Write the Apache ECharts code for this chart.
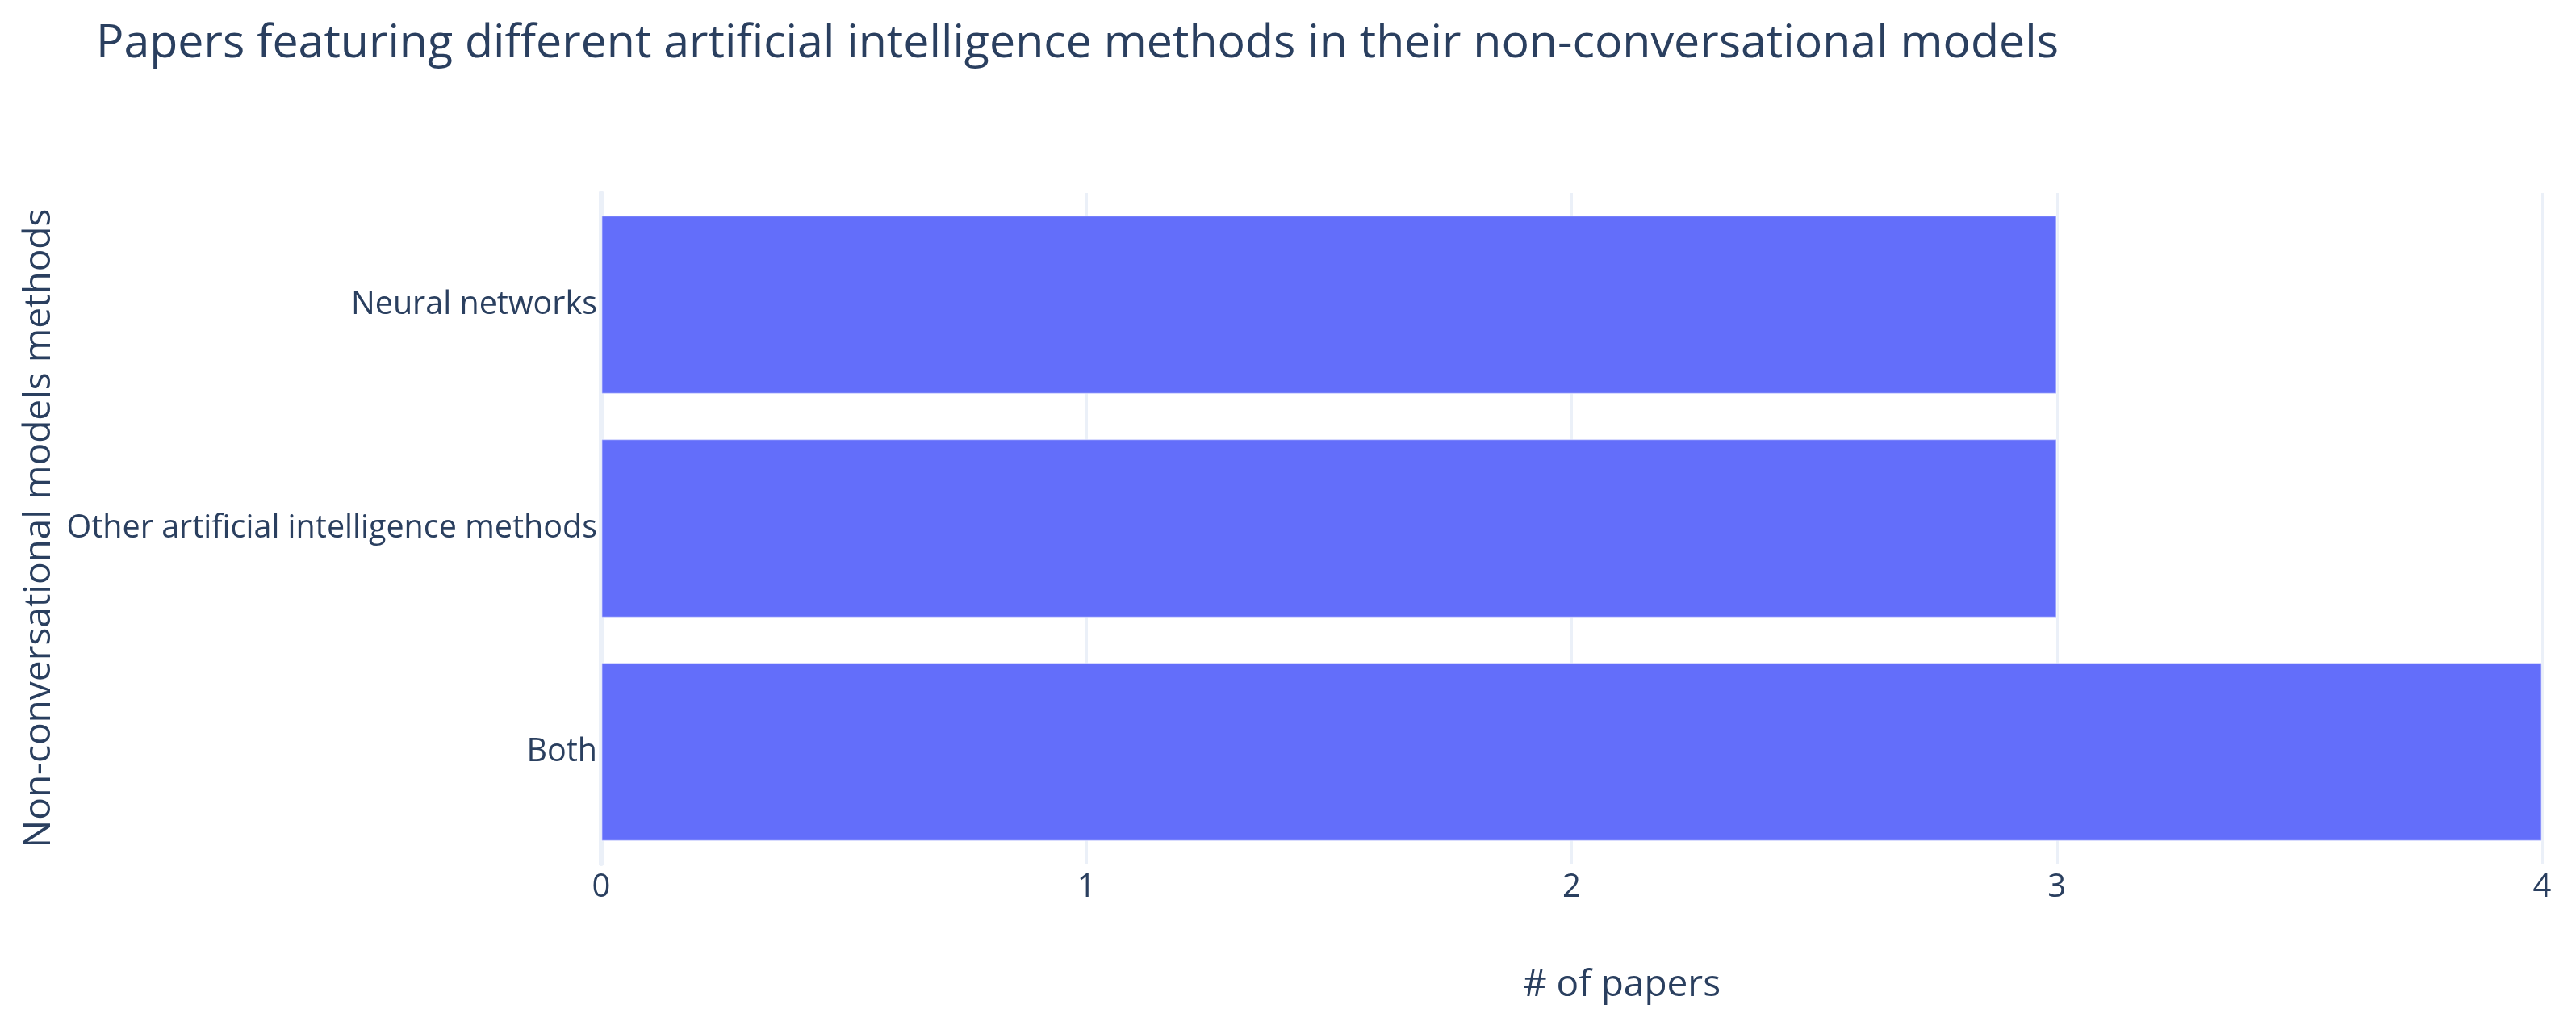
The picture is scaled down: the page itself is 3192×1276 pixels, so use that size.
<!DOCTYPE html>
<html>
<head>
<meta charset="utf-8">
<script src="https://cdn.jsdelivr.net/npm/echarts@6/dist/echarts.min.js"></script>
<style>html,body{margin:0;padding:0;background:#fff}#c{width:3192px;height:1276px}</style>
</head>
<body>
<div id="c"></div>
<script>
const categories = ['Both', 'Other artificial intelligence methods', 'Neural networks'];
const paperCounts = [4, 3, 3];
const xTicks = [0, 1, 2, 3, 4];

const chart = echarts.init(document.getElementById('c'));
const font = '"Open Sans", "Noto Sans", sans-serif';
chart.setOption({
  backgroundColor: '#ffffff',
  animation: false,
  title: {
    text: 'Papers featuring different artificial intelligence methods in their non-conversational models',
    left: 114, top: 21,
    textStyle: { fontFamily: font, fontSize: 57.3, fontWeight: 'normal', color: '#2a3f5f' }
  },
  grid: { left: 745, right: 42, top: 239, bottom: 206, containLabel: false, outerBoundsMode: 'none' },
  xAxis: {
    type: 'value', min: xTicks[0], max: xTicks[xTicks.length - 1], interval: 1,
    name: '# of papers', nameLocation: 'middle', nameGap: 128,
    nameTextStyle: { fontFamily: font, fontSize: 46, color: '#2a3f5f', padding: [0, 0, 0, 124] },
    axisLine: { show: false }, axisTick: { show: false },
    axisLabel: { fontFamily: font, fontSize: 40, color: '#2a3f5f', margin: 10 },
    splitLine: { show: true, lineStyle: { color: '#ebf0f8', width: 3 } }
  },
  yAxis: {
    type: 'category', data: categories,
    name: 'Non-conversational models methods', nameLocation: 'middle', nameGap: 666,
    nameRotate: 90,
    nameTextStyle: { fontFamily: font, fontSize: 46, color: '#2a3f5f' },
    axisLine: { show: true, lineStyle: { color: '#ebf0f8', width: 6 } },
    axisTick: { show: false },
    axisLabel: { fontFamily: font, fontSize: 39.5, color: '#2a3f5f', margin: 5 },
    splitLine: { show: false }
  },
  series: [{
    type: 'bar', data: paperCounts, barCategoryGap: '20%',
    itemStyle: { color: '#636efa', borderColor: 'rgba(255,255,255,0.5)', borderWidth: 1.5 }
  }]
});
</script>
</body>
</html>
